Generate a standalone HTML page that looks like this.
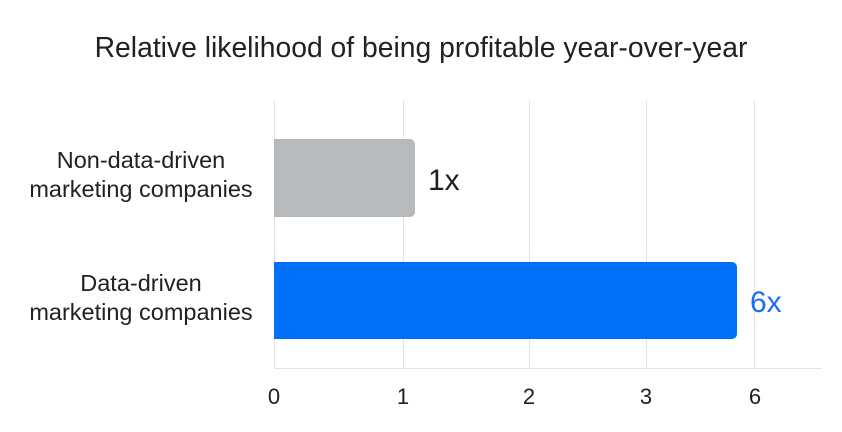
<!DOCTYPE html>
<html><head><style>body{margin:0;background:#fff}</style></head><body>
<svg width="842" height="427" xmlns="http://www.w3.org/2000/svg" font-family="Liberation Sans, sans-serif">
<rect width="842" height="427" fill="#fff"/>
<text x="421" y="57" text-anchor="middle" font-size="28.3" fill="#202124">Relative likelihood of being profitable year-over-year</text>
<g stroke="#e3e3e3" stroke-width="1">
<line x1="274.5" y1="100" x2="274.5" y2="368"/>
<line x1="403.5" y1="100" x2="403.5" y2="368"/>
<line x1="529.5" y1="100" x2="529.5" y2="368"/>
<line x1="646.5" y1="100" x2="646.5" y2="368"/>
<line x1="754.5" y1="100" x2="754.5" y2="368"/>
<line x1="274" y1="368.5" x2="822" y2="368.5"/>
</g>
<path d="M274 139 H410 a5 5 0 0 1 5 5 V212 a5 5 0 0 1 -5 5 H274 Z" fill="#b7babc"/>
<path d="M274 262 H732 a5 5 0 0 1 5 5 V334 a5 5 0 0 1 -5 5 H274 Z" fill="#006ffa"/>
<text x="428" y="190" font-size="30" fill="#202124">1x</text>
<text x="750" y="312" font-size="30" fill="#1a6ef5">6x</text>
<g font-size="23.5" fill="#202124" text-anchor="middle">
<text x="141" y="168">Non-data-driven</text>
<text x="141" y="197">marketing companies</text>
<text x="141" y="291">Data-driven</text>
<text x="141" y="320">marketing companies</text>
</g>
<g font-size="22" fill="#202124" text-anchor="middle">
<text x="274" y="404">0</text>
<text x="403" y="404">1</text>
<text x="529" y="404">2</text>
<text x="646" y="404">3</text>
<text x="755" y="404">6</text>
</g>
</svg>
</body></html>
